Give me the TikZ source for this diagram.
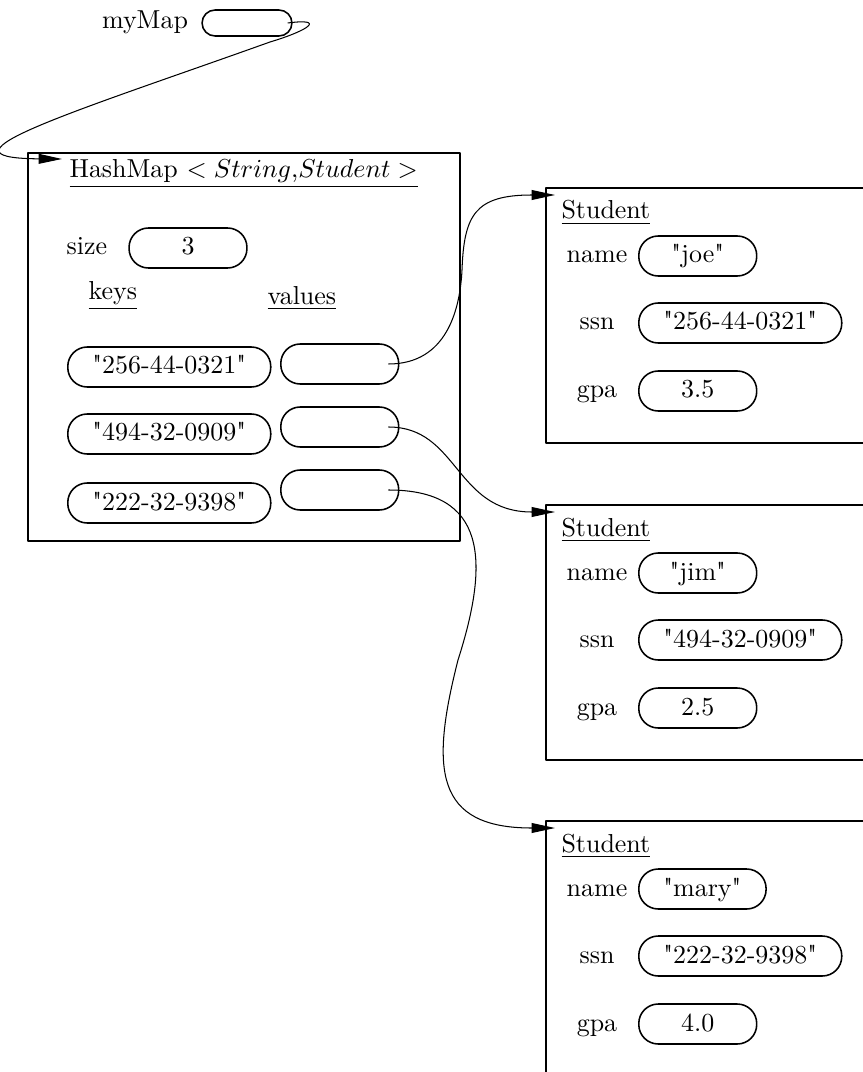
\documentclass[tikz,border=0pt]{standalone}
\usepackage{fontspec}
\usetikzlibrary{arrows.meta,calc}
\tikzset{>={Triangle[length=9pt,width=3.8pt]}}
\newcommand{\qstr}[1]{\textquotedbl#1\textquotedbl}

\begin{document}
\begin{tikzpicture}[x=0.385pt, y=-0.385pt, line join=round,
    box/.style={draw, line width=0.8pt, anchor=north west, inner sep=0pt},
    lbl/.style={text height=1.5ex, text depth=.25ex},
    field/.style={draw, line width=0.6pt, rounded corners=7.5pt, minimum height=15.4pt,
        minimum width=45.4pt, inner xsep=9.5pt, inner ysep=0pt, text height=1.5ex, text depth=.25ex},
    ptr/.style={->, line width=0.4pt}]
    \useasboundingbox (0,0) rectangle (862,1072);
    \node (mapl) at (145,22) {myMap};
    \node[field, minimum width=34.6pt, minimum height=10pt, rounded corners=5pt] (mapv) at (247,23) {};
    \node[box, minimum width=166.3pt, minimum height=149.4pt] (hm) at (27,152) {};
    \node[anchor=base west, inner sep=0pt] (hmt) at (69,178) {\underline{HashMap $<String$,$Student>$}};
    \node[lbl] (szl) at (87,248) {size};
    \node[field] (sz) at (188,248) {3};
    \node[anchor=base west, inner sep=0pt] (keysl) at (88,300) {\underline{keys}};
    \node[anchor=base west, inner sep=0pt] (valsl) at (267,305) {\underline{values}};
    \foreach \key/\ky/\vy [count=\i] in {256-44-0321/367/364, 494-32-0909/434/427, 222-32-9398/503/490}{
        \node[field, anchor=west] (k\i) at (67,\ky) {\qstr{\key}};
        \node[field, anchor=west] (v\i) at (280,\vy) {};
    }
    \foreach \nm/\ssn/\gpa/\t [count=\i] in {joe/256-44-0321/3.5/187, jim/494-32-0909/2.5/504, mary/222-32-9398/4.0/820}{
        \node[box, minimum width=140pt, minimum height=98.2pt] (s\i) at (545,\t) {};
        \node[anchor=base west, inner sep=0pt] (s\i-t) at (561,\t+32) {\underline{Student}};
        \node[lbl] (s\i-nl) at (597,\t+69) {name};
        \node[field, anchor=west] (s\i-n) at (638,\t+69) {\qstr{\nm}};
        \node[lbl] (s\i-sl) at (597,\t+136) {ssn};
        \node[field, anchor=west] (s\i-s) at (638,\t+136) {\qstr{\ssn}};
        \node[lbl] (s\i-gl) at (597,\t+204) {gpa};
        \node[field, anchor=west] (s\i-g) at (638,\t+204) {\gpa};
    }
    \draw[ptr] ($(mapv.east)+(-5,0)$) .. controls +(38,-5) and +(40,-12) .. (270,42)
        .. controls +(-190,68) and +(-140,-1) .. ($(hm.north west)+(35,7)$);
    \draw[ptr] ($(v1.east)+(-11,0)$) .. controls +(58,0) and +(-2,40) .. (462,270)
        .. controls +(2,-55) and +(-80,0) .. ($(s1.north west)+(10,8)$);
    \draw[ptr] ($(v2.east)+(-11,0)$) .. controls +(70,0) and +(-100,0) .. ($(s2.north west)+(10,8)$);
    \draw[ptr] ($(v3.east)+(-11,0)$) .. controls +(98,0) and +(32,-100) .. (458,660)
        .. controls +(-28,110) and +(-120,0) .. ($(s3.north west)+(10,8)$);
\end{tikzpicture}
\end{document}
